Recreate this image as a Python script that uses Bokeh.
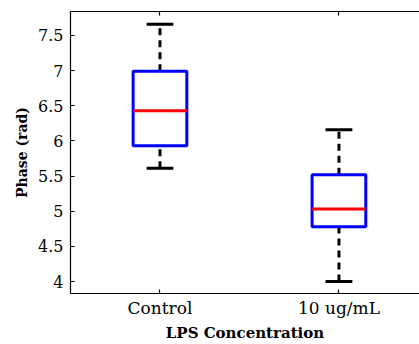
from bokeh.plotting import figure
from bokeh.models import LinearAxis, FixedTicker, Range1d, Title
from bokeh.embed import file_html
from bokeh.resources import INLINE

categories = ["Control", "10 ug/mL"]
q1 = [5.93, 4.78]
median = [6.43, 5.03]
q3 = [6.99, 5.52]
lower = [5.61, 4.00]
upper = [7.66, 6.16]
y_ticks = [4, 4.5, 5, 5.5, 6, 6.5, 7, 7.5]

xs = [i + 1 for i in range(len(categories))]
box_w = 0.3
cap_w = 0.15

y_start, y_end = 3.83, 7.84
p = figure(width=419, height=344, output_backend="svg", toolbar_location=None,
           x_range=Range1d(0.5, 2.45), y_range=Range1d(y_start, y_end),
           min_border_left=70, min_border_right=0, min_border_top=11, min_border_bottom=51,
           x_axis_location=None, y_axis_location=None)
p.outline_line_color = None
p.xgrid.visible = False
p.ygrid.visible = False
p.background_fill_color = "white"
p.border_fill_color = "white"

FONT = "DejaVu Serif"

yaxis = LinearAxis(ticker=FixedTicker(ticks=y_ticks), axis_label="Phase (rad)")
xaxis = LinearAxis(ticker=FixedTicker(ticks=xs))
xaxis.major_label_overrides = {x: c for x, c in zip(xs, categories)}
top = LinearAxis(ticker=FixedTicker(ticks=xs))

for ax in (yaxis, xaxis, top):
    ax.major_tick_in = 4
    ax.major_tick_out = 0
    ax.minor_tick_line_color = None
    ax.axis_line_color = "black"
    ax.axis_line_width = 1.2
    ax.major_tick_line_color = "black"
    ax.major_tick_line_width = 1.2
    ax.major_label_text_font = FONT
    ax.major_label_text_color = "black"
    ax.axis_label_text_font = FONT
    ax.axis_label_text_font_style = "bold"
    ax.axis_label_text_color = "black"
yaxis.major_label_text_font_size = "16px"
xaxis.major_label_text_font_size = "17px"
yaxis.axis_label_text_font_size = "14px"
top.major_label_text_color = None
top.major_label_text_font_size = "1px"
top.major_label_standoff = 0
yaxis.major_label_standoff = 7
yaxis.axis_label_standoff = 5
xaxis.major_label_standoff = 4

p.add_layout(yaxis, "left")
p.add_layout(xaxis, "below")
p.add_layout(top, "above")

xtitle = Title(text="LPS Concentration", align="center", offset=5, standoff=3,
               text_font=FONT, text_font_style="bold", text_font_size="15px",
               text_color="black")
p.add_layout(xtitle, "below")

# whiskers
p.segment(x0=xs, y0=q3, x1=xs, y1=upper, line_color="black", line_width=3, line_dash="7 5")
p.segment(x0=xs, y0=lower, x1=xs, y1=q1, line_color="black", line_width=3, line_dash="7 5")
# caps
p.segment(x0=[x - cap_w / 2 for x in xs], y0=upper, x1=[x + cap_w / 2 for x in xs], y1=upper,
          line_color="black", line_width=3)
p.segment(x0=[x - cap_w / 2 for x in xs], y0=lower, x1=[x + cap_w / 2 for x in xs], y1=lower,
          line_color="black", line_width=3)
# boxes
p.quad(left=[x - box_w / 2 for x in xs], right=[x + box_w / 2 for x in xs], bottom=q1, top=q3,
       fill_color=None, line_color="blue", line_width=3)
# medians
p.segment(x0=[x - box_w / 2 for x in xs], y0=median, x1=[x + box_w / 2 for x in xs], y1=median,
          line_color="red", line_width=3)

open("out.html", "w").write(file_html(p, INLINE))
